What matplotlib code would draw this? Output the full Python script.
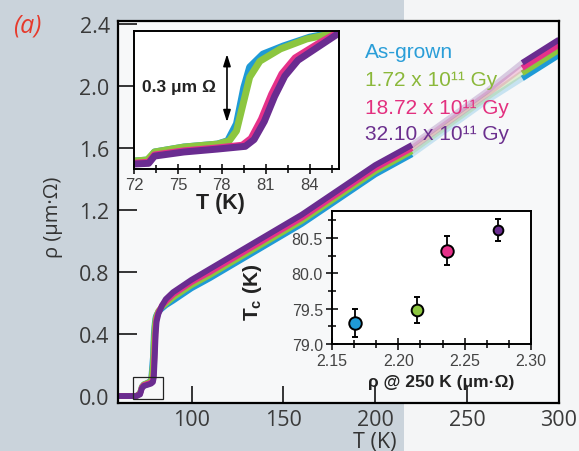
import numpy as np
import matplotlib
matplotlib.use("Agg")
import matplotlib.pyplot as plt
from matplotlib.patches import Rectangle
from matplotlib.ticker import MultipleLocator, FormatStrFormatter

plt.rcParams["mathtext.fontset"] = "custom"
plt.rcParams["mathtext.rm"] = "Liberation Sans"
plt.rcParams["mathtext.bf"] = "Liberation Sans:bold"

# ---------------- main panel: resistivity vs temperature ----------------
T_MAIN = np.array([60, 66, 70, 72, 73, 74, 76, 78, 79, 79.5, 80, 80.5, 81, 82, 84, 86,
                   90, 95, 100, 110, 120, 140, 160, 180, 200, 220, 240, 260, 280, 300])
RHO_ASGROWN = np.array([0.0, 0.0, 0.0, 0.02, 0.06, 0.075, 0.085, 0.10, 0.25, 0.40, 0.47, 0.51,
                        0.525, 0.545, 0.565, 0.585, 0.615, 0.655, 0.695, 0.76, 0.83, 0.97,
                        1.11, 1.27, 1.43, 1.56, 1.73, 1.90, 2.05, 2.20])
RHO_172 = np.array([0.0, 0.0, 0.0, 0.02, 0.06, 0.075, 0.085, 0.095, 0.20, 0.35, 0.45, 0.50,
                    0.52, 0.55, 0.575, 0.595, 0.635, 0.675, 0.715, 0.78, 0.85, 0.99,
                    1.13, 1.29, 1.45, 1.58, 1.75, 1.92, 2.083, 2.233])
RHO_1872 = np.array([0.0, 0.0, 0.0, 0.015, 0.055, 0.07, 0.078, 0.085, 0.10, 0.16, 0.32, 0.44,
                     0.50, 0.54, 0.585, 0.61, 0.655, 0.695, 0.735, 0.80, 0.87, 1.01,
                     1.15, 1.31, 1.47, 1.60, 1.77, 1.94, 2.117, 2.267])
RHO_3210 = np.array([0.0, 0.0, 0.0, 0.01, 0.05, 0.065, 0.072, 0.08, 0.09, 0.12, 0.25, 0.40,
                     0.48, 0.53, 0.585, 0.625, 0.67, 0.71, 0.75, 0.82, 0.89, 1.03,
                     1.17, 1.33, 1.49, 1.62, 1.79, 1.96, 2.15, 2.30])

LABELS = ["As-grown", "1.72 x 10¹¹ Gy", "18.72 x 10¹¹ Gy", "32.10 x 10¹¹ Gy"]
COLORS = ["#1f9ad6", "#8cc63f", "#e6318a", "#6a2c90"]
TEXT_COLORS = ["#2a9ed8", "#8bb83a", "#e3307f", "#6b2f8e"]

X_TICKS = [100, 150, 200, 250, 300]
Y_TICKS = [0.0, 0.4, 0.8, 1.2, 1.6, 2.0, 2.4]
ZOOM_T = (68.2, 84.7)
ZOOM_RHO = (-0.02, 0.12)

# ---------------- close-up of the transition ----------------
TZ_ASGROWN = [72, 73.0, 73.4, 75.4, 77.7, 78.4, 79.0, 79.5, 79.9, 80.8, 82.2, 84.0, 86]
RZ_ASGROWN = [0.035, 0.04, 0.075, 0.097, 0.11, 0.125, 0.20, 0.36, 0.45, 0.507, 0.543, 0.582, 0.607]
TZ_172 = [72, 72.9, 73.4, 75.4, 77.7, 78.5, 79.0, 79.5, 79.9, 80.6, 82.0, 83.8, 86]
RZ_172 = [0.035, 0.04, 0.075, 0.097, 0.11, 0.124, 0.168, 0.30, 0.405, 0.476, 0.53, 0.574, 0.604]
TZ_1872 = [72, 73.0, 73.4, 75.4, 77.7, 79.4, 80.0, 80.7, 81.4, 82.1, 83.0, 84.5, 86]
RZ_1872 = [0.025, 0.03, 0.062, 0.08, 0.093, 0.105, 0.135, 0.22, 0.33, 0.42, 0.49, 0.55, 0.605]
TZ_3210 = [72, 73.0, 73.4, 75.4, 77.7, 79.6, 80.2, 80.9, 81.6, 82.3, 83.2, 84.6, 86]
RZ_3210 = [0.022, 0.025, 0.057, 0.075, 0.088, 0.10, 0.13, 0.21, 0.32, 0.41, 0.48, 0.54, 0.60]
ZOOM_X_TICKS = [72, 75, 78, 81, 84]

# ---------------- Tc versus resistivity at 250 K ----------------
RHO_250 = [2.167, 2.214, 2.237, 2.275]
TC = [79.30, 79.48, 80.32, 80.61]
TC_ERR = [0.20, 0.18, 0.20, 0.15]
MARKER_SIZES = [9.0, 8.4, 9.0, 7.0]

W, H = 579, 452
fig = plt.figure(figsize=(W / 100, H / 100), dpi=100)
fig.patch.set_facecolor("#f4f5f6")
fig.add_artist(Rectangle((0, 0), 404 / W, 1, transform=fig.transFigure,
                         facecolor="#cad3db", edgecolor="none", zorder=-10))

def fx(px):
    return px / W

def fy(py):
    return 1 - py / H

main_font = ["Open Sans", "DejaVu Sans"]
box_font = ["Liberation Sans", "DejaVu Sans"]

# ---- main axes ----
ax = fig.add_axes([fx(118), fy(404), fx(559) - fx(118), fy(22) - fy(404)])
ax.set_facecolor("#f7f8f9")
ax.set_xlim(60, 300)
ax.set_ylim(-0.045, 2.42)
for s in ax.spines.values():
    s.set_linewidth(1.6)
ax.set_xticks(X_TICKS)
ax.set_yticks(Y_TICKS)
ax.set_xticklabels([str(v) for v in X_TICKS])
ax.set_yticklabels([f"{v:.1f}" for v in Y_TICKS])
ax.tick_params(axis="y", direction="in", length=14, width=1.1, pad=6,
               labelsize=15.5, labelcolor="#3a3a3a")
ax.tick_params(axis="x", direction="in", length=12, width=1.1, pad=4,
               labelsize=15.5, labelcolor="#3a3a3a")
for lab in ax.get_xticklabels() + ax.get_yticklabels():
    lab.set_family(main_font)

series = [RHO_ASGROWN, RHO_172, RHO_1872, RHO_3210]
solid_a = T_MAIN <= 220
faded = (T_MAIN >= 220) & (T_MAIN <= 280)
solid_b = T_MAIN >= 280
for rho, c in zip(series, COLORS):
    ax.plot(T_MAIN[solid_a], rho[solid_a], color=c, lw=4.2, solid_capstyle="butt",
            solid_joinstyle="round")
    ax.plot(T_MAIN[faded], rho[faded], color=c, lw=4.2, alpha=0.22, solid_capstyle="butt")
    ax.plot(T_MAIN[solid_b], rho[solid_b], color=c, lw=4.2, solid_capstyle="butt")

ax.add_patch(Rectangle((ZOOM_T[0], ZOOM_RHO[0]), ZOOM_T[1] - ZOOM_T[0],
                       ZOOM_RHO[1] - ZOOM_RHO[0], fill=False, edgecolor="#222222",
                       lw=0.9, zorder=5))

ax.set_xlabel("T (K)", fontsize=15.5, color="#333333", family=main_font)
ax.xaxis.set_label_coords(0.583, -0.1)
ax.xaxis.label.set_va("center")
ax.set_ylabel("ρ (μm·Ω)", fontsize=14.5, color="#333333", family=main_font)
ax.yaxis.set_label_coords(-0.147, 0.49)
ax.yaxis.label.set_va("center")

fig.text(fx(27), fy(26), "(a)", color="#e63a2c", fontsize=18, style="italic",
         family=main_font, ha="center", va="center")

legend_y = [53, 80, 108, 134]
for lab, c, py in zip(LABELS, TEXT_COLORS, legend_y):
    fig.text(fx(365), fy(py), lab, color=c, fontsize=15, family=box_font,
             ha="left", va="center")

# ---- transition close-up ----
ax1 = fig.add_axes([fx(134), fy(170), fx(339) - fx(134), fy(32) - fy(170)])
ax1.set_facecolor("white")
ax1.set_xlim(72, 86)
ax1.set_ylim(0, 0.609)
for s in ax1.spines.values():
    s.set_linewidth(1.4)
for tz, rz, c in zip([TZ_ASGROWN, TZ_172, TZ_1872, TZ_3210],
                     [RZ_ASGROWN, RZ_172, RZ_1872, RZ_3210], COLORS):
    ax1.plot(tz, rz, color=c, lw=5, solid_capstyle="butt", solid_joinstyle="round")
ax1.set_xticks(ZOOM_X_TICKS)
ax1.xaxis.set_minor_locator(MultipleLocator(1.5))
ax1.set_yticks([])
ax1.tick_params(axis="x", which="major", direction="inout", length=7, width=1.1, pad=2,
                labelsize=12, labelcolor="#444444")
ax1.tick_params(axis="x", which="minor", direction="inout", length=6, width=1.1)
for lab in ax1.get_xticklabels():
    lab.set_family(box_font)
ax1.set_xlabel("T (K)", fontsize=15.5, fontweight="bold", family=box_font, color="#222222")
ax1.xaxis.set_label_coords(0.424, -0.245)
ax1.xaxis.label.set_va("center")
ax1.annotate("", xy=(78.35, 0.507), xytext=(78.35, 0.207),
             arrowprops=dict(arrowstyle="<|-|>,head_length=0.7,head_width=0.22",
                             color="black", lw=1.2, shrinkA=0, shrinkB=0))
ax1.text(72.55, 0.362, "0.3 μm Ω", fontsize=12.5, fontweight="bold",
         family=box_font, ha="left", va="center", color="#222222")

# ---- Tc vs rho(250 K) ----
ax2 = fig.add_axes([fx(332), fy(345), fx(531) - fx(332), fy(212) - fy(345)])
ax2.set_facecolor("white")
ax2.set_xlim(2.15, 2.30)
ax2.set_ylim(79.0, 80.88)
for s in ax2.spines.values():
    s.set_linewidth(1.4)
for x, y, e, c, ms in zip(RHO_250, TC, TC_ERR, COLORS, MARKER_SIZES):
    ax2.errorbar([x], [y], yerr=[e], fmt="o", color="black", ecolor="black",
                 elinewidth=1.3, capsize=2.5, capthick=1.3, markersize=ms,
                 markerfacecolor=c, markeredgecolor="black", markeredgewidth=1.4)
ax2.set_xticks([2.15, 2.20, 2.25, 2.30])
ax2.xaxis.set_minor_locator(MultipleLocator(0.05 / 3))
ax2.set_yticks([79.0, 79.5, 80.0, 80.5])
ax2.yaxis.set_minor_locator(MultipleLocator(0.25))
ax2.xaxis.set_major_formatter(FormatStrFormatter("%.2f"))
ax2.yaxis.set_major_formatter(FormatStrFormatter("%.1f"))
ax2.tick_params(which="major", direction="inout", length=9, width=1.1, pad=2,
                labelsize=11.5, labelcolor="#444444")
ax2.tick_params(which="minor", direction="inout", length=6, width=1.1)
for lab in ax2.get_xticklabels() + ax2.get_yticklabels():
    lab.set_family(box_font)
ax2.set_xlabel("ρ @ 250 K (μm·Ω)", fontsize=12.5, fontweight="bold",
               family=box_font, color="#222222")
ax2.xaxis.set_label_coords(0.548, -0.285)
ax2.xaxis.label.set_va("center")
ax2.set_ylabel(r"$\mathbf{T_c}$ (K)", fontsize=15, fontweight="bold",
               family=box_font, color="#222222")
ax2.yaxis.set_label_coords(-0.40, 0.40)
ax2.yaxis.label.set_va("center")

fig.savefig("out.png", dpi=100, facecolor=fig.get_facecolor())
